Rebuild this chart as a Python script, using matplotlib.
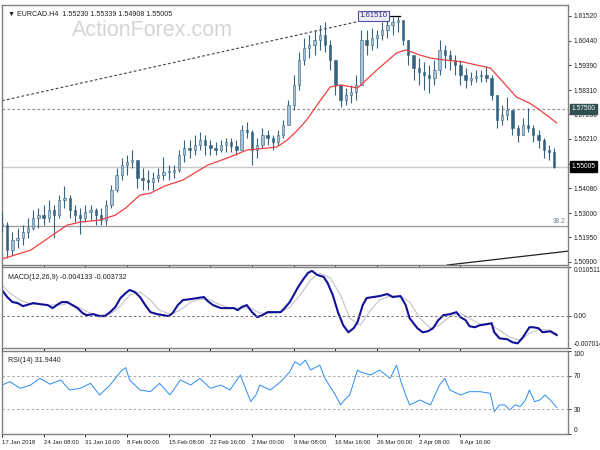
import matplotlib.pyplot as plt
import numpy as np

plt.rcParams['font.family'] = ['Liberation Sans', 'DejaVu Sans']

# EURCAD H4 - one reading every 4 bars
bar_step = 4
highs = [1.5304, 1.5261, 1.5218, 1.5235, 1.5248, 1.5278, 1.5313, 1.5322, 1.5335, 1.5356,
         1.5335, 1.5378, 1.5417, 1.5378, 1.5335, 1.5322, 1.5335, 1.5335, 1.5322, 1.5322,
         1.5356, 1.5421, 1.5494, 1.5537, 1.5551, 1.5572, 1.5529, 1.5494, 1.5486, 1.5477,
         1.5494, 1.5542, 1.5507, 1.5507, 1.5572, 1.5615, 1.5615, 1.5637, 1.5650, 1.5637,
         1.5615, 1.5607, 1.5615, 1.5624, 1.5624, 1.5615, 1.5680, 1.5693, 1.5658, 1.5624,
         1.5667, 1.5658, 1.5637, 1.5658, 1.5702, 1.5788, 1.5896, 1.5995, 1.6056, 1.6069,
         1.6090, 1.6112, 1.6125, 1.6047, 1.5961, 1.5853, 1.5840, 1.5853, 1.5896, 1.6090,
         1.6090, 1.6099, 1.6090, 1.6125, 1.6142, 1.6145, 1.6151, 1.6125, 1.6047, 1.5982,
         1.5969, 1.5952, 1.5939, 1.5961, 1.6047, 1.6026, 1.6004, 1.5982, 1.5961, 1.5926,
         1.5909, 1.5918, 1.5918, 1.5935, 1.5896, 1.5810, 1.5766, 1.5801, 1.5710, 1.5680,
         1.5710, 1.5753, 1.5680, 1.5658, 1.5624, 1.5594, 1.5581]
lows = [1.5218, 1.5106, 1.5119, 1.5149, 1.5162, 1.5192, 1.5227, 1.5235, 1.5248, 1.5261,
        1.5192, 1.5278, 1.5322, 1.5278, 1.5261, 1.5209, 1.5261, 1.5270, 1.5248, 1.5248,
        1.5248, 1.5322, 1.5391, 1.5443, 1.5464, 1.5494, 1.5408, 1.5399, 1.5399, 1.5399,
        1.5434, 1.5443, 1.5443, 1.5451, 1.5477, 1.5520, 1.5537, 1.5551, 1.5572, 1.5551,
        1.5551, 1.5551, 1.5563, 1.5563, 1.5563, 1.5551, 1.5572, 1.5624, 1.5507, 1.5537,
        1.5581, 1.5594, 1.5572, 1.5594, 1.5624, 1.5680, 1.5745, 1.5831, 1.5939, 1.5969,
        1.5982, 1.6004, 1.5995, 1.5918, 1.5810, 1.5758, 1.5766, 1.5775, 1.5788, 1.5853,
        1.5982, 1.6004, 1.6013, 1.6047, 1.6056, 1.6069, 1.6082, 1.6026, 1.5939, 1.5874,
        1.5853, 1.5831, 1.5818, 1.5853, 1.5896, 1.5926, 1.5918, 1.5896, 1.5853, 1.5840,
        1.5853, 1.5866, 1.5866, 1.5866, 1.5788, 1.5667, 1.5680, 1.5702, 1.5637, 1.5607,
        1.5637, 1.5650, 1.5607, 1.5581, 1.5537, 1.5529, 1.5494]
closes = [1.5248, 1.5140, 1.5183, 1.5192, 1.5218, 1.5235, 1.5278, 1.5291, 1.5278, 1.5313,
          1.5291, 1.5356, 1.5365, 1.5313, 1.5291, 1.5278, 1.5304, 1.5313, 1.5291, 1.5270,
          1.5335, 1.5399, 1.5464, 1.5507, 1.5520, 1.5529, 1.5451, 1.5443, 1.5434, 1.5451,
          1.5464, 1.5477, 1.5477, 1.5486, 1.5551, 1.5581, 1.5572, 1.5594, 1.5615, 1.5594,
          1.5581, 1.5572, 1.5594, 1.5607, 1.5589, 1.5572, 1.5658, 1.5650, 1.5572, 1.5594,
          1.5637, 1.5624, 1.5607, 1.5637, 1.5680, 1.5766, 1.5853, 1.5961, 1.6013, 1.6026,
          1.6047, 1.6069, 1.6026, 1.5961, 1.5853, 1.5788, 1.5810, 1.5823, 1.5853, 1.6047,
          1.6026, 1.6056, 1.6069, 1.6090, 1.6112, 1.6125, 1.6133, 1.6047, 1.5982, 1.5926,
          1.5909, 1.5896, 1.5883, 1.5918, 1.6004, 1.5982, 1.5961, 1.5939, 1.5896, 1.5874,
          1.5883, 1.5892, 1.5896, 1.5883, 1.5810, 1.5702, 1.5723, 1.5745, 1.5667, 1.5637,
          1.5680, 1.5667, 1.5637, 1.5615, 1.5572, 1.5563, 1.55005]

# moving average (red)
ma_x = [0, 22, 50, 60, 75, 87, 95, 106, 114, 125, 139, 158, 175, 188, 204, 211, 219, 227,
        234, 243, 252, 260, 273, 288, 303, 310, 321, 329, 340, 354, 375, 382, 395, 405, 413, 426]
ma_y = [1.5102, 1.5140, 1.5248, 1.5261, 1.5270, 1.5291, 1.5322, 1.5378, 1.5386, 1.5417,
        1.5443, 1.5507, 1.5542, 1.5572, 1.5581, 1.5585, 1.5615, 1.5658, 1.5702, 1.5775,
        1.5844, 1.5853, 1.5840, 1.5918, 1.5991, 1.6004, 1.5982, 1.5969, 1.5961, 1.5952,
        1.5926, 1.5883, 1.5801, 1.5775, 1.5745, 1.5689]

# trend lines and levels
upper_trend_x = [0, 293]
upper_trend_y = [1.5785, 1.6151]
lower_trend_x = [342, 435]
lower_trend_y = [1.5076, 1.5136]
level_1575 = 1.5750
last_price = 1.55005
fib_382 = 1.5244
high_mark = 1.6151

# MACD(12,26,9)
macd_x = [0, 4, 8, 12, 16, 19, 24, 29, 35, 39, 42, 46, 50, 54, 58, 62, 65, 70, 75, 79,
          83, 87, 91, 95, 98, 102, 106, 110, 114, 119, 124, 128, 131, 135, 139, 145, 150,
          155, 158, 162, 168, 173, 178, 181, 184, 188, 192, 196, 200, 204, 208, 214, 217,
          221, 227, 231, 235, 238, 242, 247, 250, 254, 258, 262, 266, 270, 273, 277, 280,
          285, 290, 296, 300, 306, 310, 313, 319, 323, 327, 331, 335, 339, 344, 349, 352,
          356, 359, 363, 367, 372, 376, 378, 382, 388, 392, 396, 400, 405, 408, 412, 415,
          421, 426]
macd_main = [0.00556, 0.00405, 0.00297, 0.00275, 0.00210, 0.00232, 0.00275, 0.00253,
             0.00232, 0.00167, 0.00232, 0.00297, 0.00297, 0.00232, 0.00167, 0.00058,
             0.00015, 0.00037, -0.00006, -0.00006, 0.00080, 0.00188, 0.00383, 0.00491,
             0.00556, 0.00513, 0.00405, 0.00232, 0.00080, 0.00037, 0.00015, -0.00006,
             0.00058, 0.00232, 0.00340, 0.00361, 0.00383, 0.00405, 0.00318, 0.00232,
             0.00167, 0.00167, 0.00167, 0.00123, 0.00188, 0.00232, 0.00080, -0.00028,
             0.00015, 0.00080, 0.00080, 0.00080, 0.00167, 0.00297, 0.00600, 0.00773,
             0.00924, 0.00968, 0.00881, 0.00838, 0.00708, 0.00448, 0.00080, -0.00201,
             -0.00353, -0.00266, -0.00136, 0.00232, 0.00383, 0.00405, 0.00426, 0.00470,
             0.00405, 0.00426, 0.00232, -0.00050, -0.00266, -0.00353, -0.00331, -0.00266,
             -0.00093, 0.00015, 0.00037, 0.00080, -0.00028, -0.00093, -0.00223, -0.00245,
             -0.00201, -0.00180, -0.00158, -0.00353, -0.00483, -0.00504, -0.00569, -0.00591,
             -0.00461, -0.00245, -0.00245, -0.00266, -0.00353, -0.00331, -0.00413]
signal_x = [0, 6, 14, 22, 29, 37, 45, 52, 60, 68, 75, 83, 91, 98, 106, 114, 121, 129, 137,
            145, 152, 160, 168, 175, 183, 191, 198, 206, 214, 221, 229, 237, 244, 252, 260,
            267, 275, 283, 290, 298, 306, 313, 321, 329, 336, 344, 352, 359, 367, 375, 382,
            390, 398, 405, 413, 421, 426]
macd_signal = [0.00665, 0.00491, 0.00340, 0.00253, 0.00253, 0.00232, 0.00232, 0.00275,
               0.00167, 0.00058, 0.00015, 0.00037, 0.00210, 0.00448, 0.00513, 0.00340,
               0.00123, 0.00037, 0.00123, 0.00297, 0.00361, 0.00340, 0.00232, 0.00167,
               0.00167, 0.00167, 0.00058, 0.00058, 0.00080, 0.00188, 0.00448, 0.00773,
               0.00924, 0.00816, 0.00448, -0.00050, -0.00201, 0.00123, 0.00340, 0.00426,
               0.00426, 0.00297, -0.00050, -0.00266, -0.00201, -0.00006, 0.00058, -0.00050,
               -0.00180, -0.00180, -0.00310, -0.00461, -0.00526, -0.00374, -0.00288,
               -0.00310, -0.00373]

# RSI(14)
rsi_x = [0, 6, 14, 22, 29, 37, 45, 52, 60, 68, 75, 83, 91, 95, 98, 106, 114, 121, 129, 137,
         145, 152, 160, 168, 175, 183, 191, 195, 198, 206, 214, 221, 225, 229, 233, 237, 244,
         248, 256, 260, 263, 267, 273, 275, 283, 290, 298, 303, 306, 310, 313, 321, 329, 336,
         340, 344, 352, 359, 367, 375, 378, 382, 386, 390, 394, 398, 402, 405, 409, 413, 417,
         421, 426]
rsi_vals = [59, 63, 55, 59, 67, 60, 65, 53, 55, 61, 47, 59, 75, 80, 65, 53, 51, 61, 47, 65,
            59, 67, 55, 59, 53, 71, 39, 47, 59, 53, 63, 75, 87, 83, 89, 77, 83, 67, 47, 35,
            41, 47, 77, 75, 71, 77, 67, 83, 65, 47, 35, 41, 35, 59, 67, 53, 47, 51, 51, 49,
            27, 35, 35, 29, 35, 33, 41, 53, 39, 41, 47, 41, 32]

tick_pos = [0, 32, 64, 96, 128, 160, 192, 224, 256, 288, 320, 352]
tick_labels = ['17 Jan 2018', '24 Jan 08:00', '31 Jan 16:00', '8 Feb 00:00', '15 Feb 08:00',
               '22 Feb 16:00', '2 Mar 00:00', '9 Mar 08:00', '16 Mar 16:00', '26 Mar 00:00',
               '2 Apr 08:00', '9 Apr 16:00']
price_ticks = [1.50900, 1.51950, 1.53000, 1.54080, 1.55130, 1.56210, 1.57260, 1.58310,
               1.59390, 1.60440, 1.61520]

fs = 4.8
frame = '#808080'
dark = '#35627f'
light = '#a7c3d8'

fig = plt.figure(figsize=(6, 4.5), dpi=100)
ax = fig.add_axes([0.0033, 0.4111, 0.9433, 0.5778])
ax_m = fig.add_axes([0.0033, 0.2256, 0.9433, 0.1811])
ax_r = fig.add_axes([0.0033, 0.0356, 0.9433, 0.1844])

xlim = (0.2, 434.6)
for a in (ax, ax_m, ax_r):
    a.set_xlim(*xlim)
    a.yaxis.tick_right()
    a.tick_params(axis='y', labelsize=fs, length=2.5, width=0.6, pad=1.5, colors='#202020')
    a.tick_params(axis='x', length=2.5, width=0.6)
    for s in a.spines.values():
        s.set_color(frame)
        s.set_linewidth(1.0)
    a.set_xticks(tick_pos)
    a.set_xticklabels([])

# --- price panel ---
bars = np.arange(len(closes)) * bar_step
opens = [closes[0]] + closes[:-1]
ax.vlines(bars, lows, highs, color=dark, lw=0.8, zorder=3)
up = [c >= o for o, c in zip(opens, closes)]
bottoms = [min(o, c) for o, c in zip(opens, closes)]
heights = [max(abs(c - o), 0.0003) for o, c in zip(opens, closes)]
ax.bar(bars, heights, bottom=bottoms, width=1.8,
       color=[light if u else dark for u in up], edgecolor=dark, linewidth=0.4, zorder=4)
ax.plot(ma_x, ma_y, color='#f04040', lw=0.9, zorder=5)

ax.plot(upper_trend_x, upper_trend_y, color='#404040', lw=0.8, ls=(0, (2.5, 2)), zorder=2)
ax.plot(lower_trend_x, lower_trend_y, color='#202020', lw=0.9, zorder=2)
ax.axhline(level_1575, color='#909090', lw=0.9, ls=(0, (2, 2)), zorder=1)
ax.axhline(last_price, color='#c8c8c8', lw=1.0, zorder=1)
ax.axhline(fib_382, color='#a0a0a0', lw=1.0, zorder=1)
ax.text(433, fib_382 + 0.0004, '38.2', fontsize=fs, color='#708090', ha='right', va='bottom')
ax.plot([295, 306], [high_mark, high_mark], color='#000000', lw=0.9, zorder=6)
ax.text(285, high_mark, '1.61510', fontsize=fs + 0.8, color='#303080', ha='center', va='center',
        zorder=7, bbox=dict(boxstyle='square,pad=0.2', fc='#eeeefa', ec='#5050b0', lw=0.8))

ax.set_ylim(1.5076, 1.6198)
ax.set_yticks(price_ticks)
ax.set_yticklabels(['%.5f' % v for v in price_ticks])
for val, bg in ((level_1575, '#2f4f4f'), (last_price, '#000000')):
    ax.text(1.006, val, '%.5f' % val, transform=ax.get_yaxis_transform(), fontsize=fs,
            color='white', ha='left', va='center', zorder=10, clip_on=False,
            bbox=dict(boxstyle='square,pad=0.25', fc=bg, ec=bg))

ax.text(0.01, 0.965, '\u25bc EURCAD.H4  1.55230 1.55339 1.54908 1.55005', transform=ax.transAxes,
        fontsize=fs + 0.3, color='#202020', va='center', ha='left')
ax.text(0.265, 0.9, 'ActionForex.com', transform=ax.transAxes, fontsize=15.5,
        color='#d4d4d4', ha='center', va='center', zorder=0)

# --- MACD panel ---
ax_m.plot(signal_x, macd_signal, color='#c4c4c4', lw=0.8)
ax_m.plot(macd_x, macd_main, color='#10109a', lw=1.5)
ax_m.axhline(0, color='#707070', lw=0.7, ls=(0, (2.5, 2.5)))
ax_m.set_ylim(-0.007014, 0.010511)
ax_m.set_yticks([0.010511, 0.0, -0.007014])
ax_m.set_yticklabels(['0.010511', '0.00', '-0.007014'])
ax_m.text(0.01, 0.87, 'MACD(12,26,9) -0.004133 -0.003732', transform=ax_m.transAxes,
          fontsize=fs + 0.3, color='#202020', va='center')

# --- RSI panel ---
ax_r.plot(rsi_x, rsi_vals, color='#2a8cf0', lw=0.7)
for lvl in (70, 30):
    ax_r.axhline(lvl, color='#a8a8a8', lw=0.7, ls=(0, (2.5, 2.5)))
ax_r.set_ylim(0, 100)
ax_r.set_yticks([100, 70, 30, 0])
ax_r.set_yticklabels(['100', '70', '30', '0'])
ax_r.text(0.01, 0.89, 'RSI(14) 31.9440', transform=ax_r.transAxes,
          fontsize=fs + 0.3, color='#202020', va='center')
ax_r.set_xticklabels(tick_labels, fontsize=4.3, ha='left', color='#202020')
ax_r.tick_params(axis='x', pad=2)

# keep the edge labels of the indicator panels inside their panel
for a in (ax_m, ax_r):
    labels = a.get_yticklabels()
    labels[0].set_va('top')
    labels[-1].set_va('bottom')

fig.savefig('out.png', dpi=100, facecolor='white')
